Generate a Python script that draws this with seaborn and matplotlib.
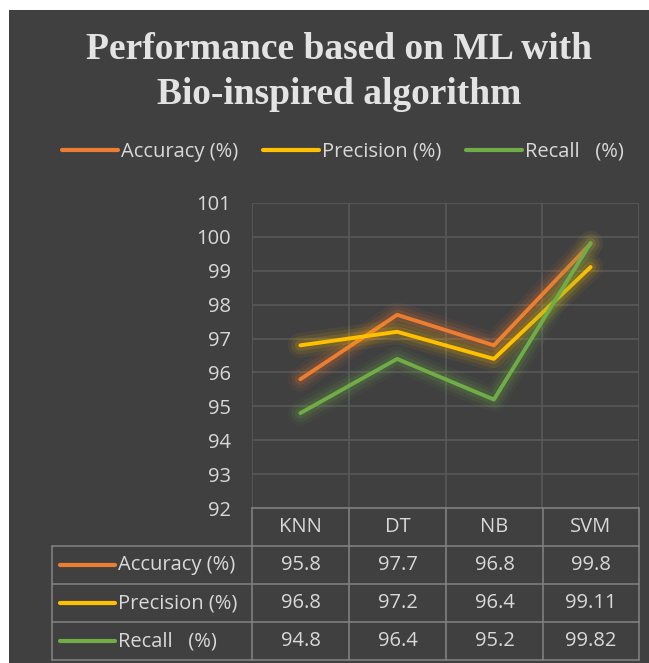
import matplotlib
matplotlib.use("Agg")
import numpy as np
import pandas as pd
import seaborn as sns
import matplotlib.pyplot as plt
from matplotlib.lines import Line2D
from matplotlib.patches import Rectangle
import matplotlib.patheffects as pe

# ---- data ----
models = ["KNN", "DT", "NB", "SVM"]
metrics = ["Accuracy (%)", "Precision (%)", "Recall   (%)"]
accuracy = [95.8, 97.7, 96.8, 99.8]
precision = [96.8, 97.2, 96.4, 99.11]
recall = [94.8, 96.4, 95.2, 99.82]
yticks = list(range(92, 102))
colors = ["#ED7D31", "#FFC000", "#70AD47"]

series = [accuracy, precision, recall]
df = pd.DataFrame({
    "Model": models * 3,
    "Metric": [m for m in metrics for _ in models],
    "Value": accuracy + precision + recall,
})
palette = dict(zip(metrics, colors))

sns.set_style("dark")
W, H = 649, 663
fig = plt.figure(figsize=(W / 100, H / 100), dpi=100, facecolor="white")
fig.add_artist(Rectangle((9 / W, 0), 1 - 9 / W, 1 - 10 / H, transform=fig.transFigure,
                         facecolor="#404040", edgecolor="none", zorder=-10))

TXT = "#D9D9D9"
GRID = "#595959"
TBL = "#7F7F7F"
FONT = "Open Sans"
FS = 14.5

def fx(px):
    return px / W

def fy(py):
    return 1 - py / H

ax = fig.add_axes([fx(252), fy(508), (639 - 252) / W, (508 - 203) / H])
ax.set_facecolor("#404040")

sns.lineplot(data=df, x="Model", y="Value", hue="Metric", hue_order=metrics,
             palette=palette, sort=False, lw=2.8, legend=False, ax=ax)

for line, c in zip(ax.get_lines(), colors):
    line.set_solid_capstyle("round")
    line.set_path_effects([
        pe.Stroke(linewidth=18, foreground=c, alpha=0.06),
        pe.Stroke(linewidth=13, foreground=c, alpha=0.09),
        pe.Stroke(linewidth=8, foreground=c, alpha=0.14),
        pe.Normal(),
    ])

ax.set_xlim(-0.5, len(models) - 0.5)
ax.set_ylim(yticks[0], yticks[-1])
ax.set_yticks(yticks)
ax.set_yticklabels([str(v) for v in yticks], fontsize=FS, color=TXT, family=FONT)
ax.set_xticks([])
ax.set_xticks(np.arange(len(models) + 1) - 0.5, minor=True)
ax.tick_params(axis="x", which="both", length=0, labelbottom=False)
ax.tick_params(axis="y", length=0, pad=15)
ax.set_xlabel("")
ax.set_ylabel("")
ax.grid(True, axis="y", which="major", color=GRID, lw=1.2)
ax.grid(True, axis="x", which="minor", color=GRID, lw=1.2)
for s in ax.spines.values():
    s.set_visible(False)

# ---- title ----
fig.text(fx(339), fy(72), "Performance based on ML with\nBio-inspired algorithm",
         ha="center", va="center", fontsize=27, fontweight="bold",
         family="Liberation Serif", color="#E3E3E3", linespacing=1.34)

# ---- legend ----
handles = [Line2D([0], [0], color=c, lw=3) for c in colors]
fig.legend(handles, metrics, loc="center", bbox_to_anchor=(fx(343), fy(152)), ncol=3,
           frameon=False, handlelength=2.75, handletextpad=0.15, columnspacing=1.25,
           prop={"family": FONT, "size": FS}, labelcolor=TXT)

# ---- data table ----
col_edges = [252, 349, 446, 543, 639]
row_edges = [508, 546, 584, 622, 660]
left = 52

def hline(x0, x1, y):
    fig.add_artist(Line2D([fx(x0), fx(x1)], [fy(y), fy(y)], color=TBL, lw=1.2))

def vline(x, y0, y1):
    fig.add_artist(Line2D([fx(x), fx(x)], [fy(y0), fy(y1)], color=TBL, lw=1.2))

hline(col_edges[0], col_edges[-1], row_edges[0])
for y in row_edges[1:]:
    hline(left, col_edges[-1], y)
for x in col_edges:
    vline(x, row_edges[0], row_edges[-1])
vline(left, row_edges[1], row_edges[-1])

for j, m in enumerate(models):
    cx = (col_edges[j] + col_edges[j + 1]) / 2
    cy = (row_edges[0] + row_edges[1]) / 2
    fig.text(fx(cx), fy(cy), m, ha="center", va="center", fontsize=FS, color=TXT, family=FONT)

for i, (name, vals, c) in enumerate(zip(metrics, series, colors)):
    cy = (row_edges[i + 1] + row_edges[i + 2]) / 2
    fig.add_artist(Line2D([fx(60), fx(115)], [fy(cy), fy(cy)], color=c, lw=3))
    fig.text(fx(118), fy(cy), name, ha="left", va="center", fontsize=FS, color=TXT, family=FONT)
    for j, v in enumerate(vals):
        cx = (col_edges[j] + col_edges[j + 1]) / 2
        fig.text(fx(cx), fy(cy), str(v), ha="center", va="center", fontsize=FS, color=TXT, family=FONT)

fig.savefig("out.png", dpi=100, facecolor=fig.get_facecolor())
